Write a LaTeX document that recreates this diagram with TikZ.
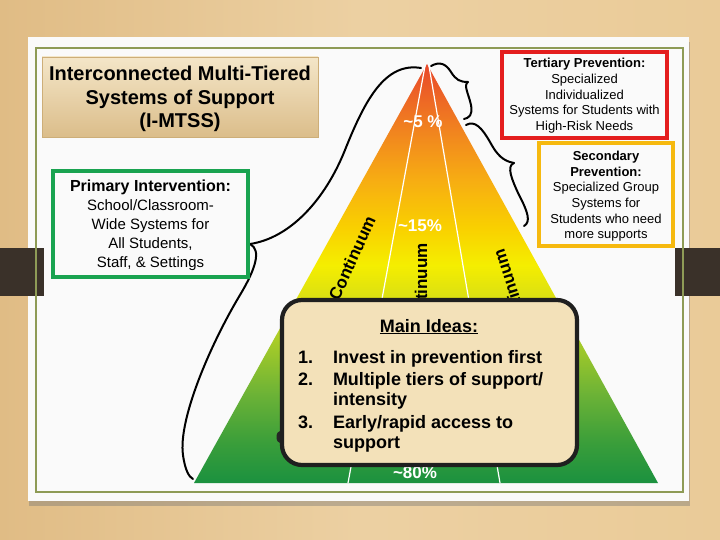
\documentclass[tikz,border=0pt]{standalone}
\usepackage{fontspec}
\setmainfont{Liberation Sans}
\usetikzlibrary{shadows}
\definecolor{wood}{HTML}{EACB98}
\definecolor{woodd}{HTML}{E0BC85}
\definecolor{cardc}{HTML}{FAFAFA}
\definecolor{olivec}{HTML}{8E9B56}
\definecolor{clipc}{HTML}{3A3129}
\definecolor{titletop}{HTML}{F4E6C8}
\definecolor{titlebot}{HTML}{DBBD8A}
\definecolor{titleedge}{HTML}{CDAE78}
\definecolor{primc}{HTML}{19A350}
\definecolor{tertc}{HTML}{E41E1E}
\definecolor{secc}{HTML}{F6B90F}
\definecolor{mainfill}{HTML}{F3E1B9}
\definecolor{g0}{HTML}{1B913F}
\definecolor{g1}{HTML}{3A9E3A}
\definecolor{g2}{HTML}{6DB336}
\definecolor{g3}{HTML}{A8CC28}
\definecolor{g4}{HTML}{D8DE14}
\definecolor{g5}{HTML}{F5EE00}
\definecolor{g6}{HTML}{F9D000}
\definecolor{g7}{HTML}{F7AE12}
\definecolor{g8}{HTML}{F1841F}
\definecolor{g9}{HTML}{EC5E27}
\definecolor{g10}{HTML}{E8472A}
\pgfdeclareverticalshading{pyrshade}{100bp}{color(0bp)=(g0); color(25bp)=(g0); color(29.8bp)=(g1); color(35.7bp)=(g2); color(42bp)=(g3); color(46.8bp)=(g4); color(51bp)=(g5); color(55.5bp)=(g6); color(61bp)=(g7); color(67bp)=(g8); color(72bp)=(g9); color(75bp)=(g10); color(100bp)=(g10)}
\tikzset{
  lbl/.style={anchor=base, inner sep=0pt, outer sep=0pt},
  ttl/.style={lbl, font=\fontsize{20}{24}\selectfont\bfseries},
  pb/.style={lbl, font=\fontsize{16}{19}\selectfont\bfseries},
  pr/.style={lbl, font=\fontsize{15}{19}\selectfont},
  tb/.style={lbl, font=\fontsize{13}{16}\selectfont\bfseries},
  tr/.style={lbl, font=\fontsize{13}{16}\selectfont},
  pct/.style={lbl, text=white, font=\fontsize{17}{20}\selectfont\bfseries},
  cont/.style={inner sep=0pt, font=\fontsize{17}{20}\selectfont\bfseries},
  mi/.style={inner sep=0pt, outer sep=0pt, anchor=base west, font=\fontsize{18}{21}\selectfont\bfseries},
  brace/.style={black, line width=2, line cap=round, line join=round},
}
\begin{document}
\begin{tikzpicture}[x=1pt,y=-1pt]
\useasboundingbox (0,0) rectangle (720,540);
% wood background
\shade[left color=woodd, right color=wood, middle color=wood!90!white] (0,0) rectangle (720,540);
% card
\fill[cardc, drop shadow={shadow xshift=1pt, shadow yshift=-5pt, opacity=.4, fill=black!55}] (28,37) rectangle (689,501);
% binder clips
\fill[clipc] (0,248) rectangle (44,296);
\fill[clipc] (675,248) rectangle (720,296);
% olive frame
\draw[olivec, line width=2.5] (36,48) rectangle (683,492);
% title box
\shade[top color=titletop, bottom color=titlebot, draw=titleedge, line width=0.8] (42,57) rectangle (318,137);
\node[ttl] (ti1) at (180,81) {Interconnected Multi-Tiered};
\node[ttl] (ti2) at (180,104.5) {Systems of Support};
\node[ttl] (ti3) at (180,128) {(I-MTSS)};
% pyramid
\shade[shading=pyrshade] (427,64) -- (658,483) -- (194,483) -- cycle;
\draw[white, line width=1.2] (425,66) -- (348,483);
\draw[white, line width=1.2] (429,66) -- (500,483);
\node[pct] (p5) at (423,128) {\textasciitilde5 \%};
\node[pct] (p15) at (420,232) {\textasciitilde15\%};
\node[pct] (p80) at (415,478) {\textasciitilde80\%};
\node[cont, rotate=65.5] (c1) at (352,258) {Continuum};
\node[cont, rotate=90] (c2) at (421,288) {Continuum};
\node[cont, rotate=108] (c3) at (512,293) {Continuum};
% braces
\draw[brace] (421,68) .. controls (385,62) and (365,100) .. (345,150) .. controls (325,200) and (290,238) .. (250,244);
\draw[brace] (250,244) .. controls (262,250) and (255,270) .. (240,295) .. controls (210,345) and (178,420) .. (183,455) .. controls (185,470) and (189,477) .. (193,479);
\draw[brace] (431,66) .. controls (440,61) and (446,64) .. (451,72) .. controls (456,80) and (460,82) .. (468,82);
\draw[brace] (468,82) .. controls (463,85) and (469,95) .. (471,105) .. controls (473,115) and (469,118) .. (464,119);
\draw[brace] (466,125) .. controls (475,120) and (482,128) .. (490,142) .. controls (497,155) and (503,161) .. (514,163);
\draw[brace] (514,163) .. controls (506,166) and (512,180) .. (519,195) .. controls (528,212) and (531,222) .. (524,226);
% primary box
\draw[primc, line width=4, fill=cardc] (53,171) rectangle (248,277);
\node[pb] (pr1) at (150.5,192) {Primary Intervention:};
\node[pr] (pr2) at (150.5,211) {School/Classroom-};
\node[pr] (pr3) at (150.5,229.5) {Wide Systems for};
\node[pr] (pr4) at (150.5,248) {All Students,};
\node[pr] (pr5) at (150.5,267) {Staff, \& Settings};
% tertiary box
\draw[tertc, line width=4.5, fill=cardc] (502,52) rectangle (667,138);
\node[tb] (te1) at (584.5,68) {Tertiary Prevention:};
\node[tr] (te2) at (584.5,84) {Specialized};
\node[tr] (te3) at (584.5,99.5) {Individualized};
\node[tr] (te4) at (584.5,115) {Systems for Students with};
\node[tr] (te5) at (584.5,131) {High-Risk Needs};
% secondary box
\draw[secc, line width=4.5, fill=cardc] (539,143) rectangle (673,246);
\node[tb] (se1) at (606,161) {Secondary};
\node[tb] (se2) at (606,176.5) {Prevention:};
\node[tr] (se3) at (606,192) {Specialized Group};
\node[tr] (se4) at (606,207.5) {Systems for};
\node[tr] (se5) at (606,223) {Students who need};
\node[tr] (se6) at (606,238) {more supports};
% main ideas box
\fill[black!85] (280,437) ellipse (3.5 and 6);
\draw[black!88, line width=4.2, fill=mainfill, rounded corners=20] (282,300) rectangle (577,465);
\node[lbl, font=\fontsize{18}{21}\selectfont\bfseries] (mh) at (429,332) {\underline{Main Ideas:}};
\node[mi] (n1) at (298,363) {1.};
\node[mi] (m1) at (333,363) {Invest in prevention first};
\node[mi] (n2) at (298,385) {2.};
\node[mi] (m2) at (333,385) {Multiple tiers of support/};
\node[mi] (m2b) at (333,405.5) {intensity};
\node[mi] (n3) at (298,428) {3.};
\node[mi] (m3) at (333,428) {Early/rapid access to};
\node[mi] (m3b) at (333,448) {support};
\end{tikzpicture}
\end{document}
